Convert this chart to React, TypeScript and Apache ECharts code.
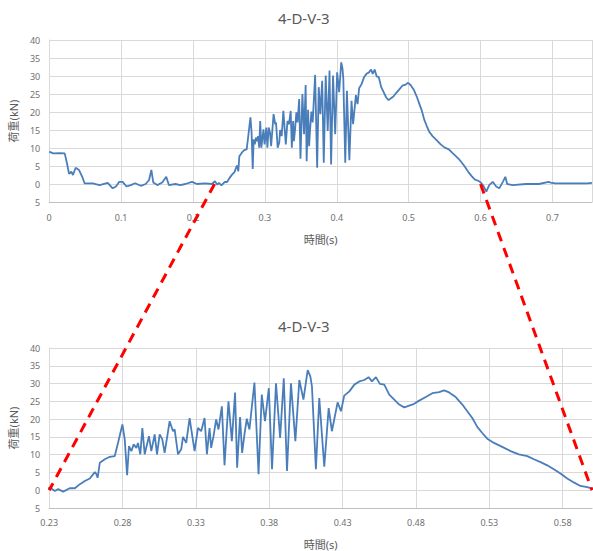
import React, { useEffect, useRef } from "react";
import * as echarts from "echarts";

const TITLE = "4-D-V-3";
const X_NAME = "時間(s)";
const Y_NAME = "荷重(kN)";

const timeS = [
  0, 0.0055, 0.0147, 0.0216, 0.0248, 0.0276, 0.0308, 0.0331, 0.0368, 0.0414, 0.046, 0.0492, 0.0607, 0.07,
  0.0814, 0.0883, 0.0929, 0.0975, 0.1021, 0.1076, 0.1135, 0.1195, 0.1274, 0.1342, 0.1389, 0.1421, 0.1448,
  0.1503, 0.1572, 0.1628, 0.1665, 0.1756, 0.1825, 0.1894, 0.1986, 0.2055, 0.217, 0.2262,
  0.2305, 0.2339, 0.2361, 0.2395, 0.244, 0.2475, 0.2509, 0.2543, 0.2577, 0.2611, 0.2622, 0.263, 0.2645,
  0.2679, 0.2713, 0.2747, 0.2769, 0.2799, 0.2815, 0.2831, 0.2844, 0.286, 0.2876, 0.2894, 0.2905, 0.2921,
  0.2935, 0.2951, 0.298, 0.2996, 0.3019, 0.3035, 0.3053, 0.3071, 0.3087, 0.3121, 0.3144, 0.3155, 0.3178,
  0.32, 0.3212, 0.3234, 0.3257, 0.3291, 0.3314, 0.3336, 0.3359, 0.3375, 0.3393, 0.3404, 0.342, 0.3438,
  0.3454, 0.3477, 0.3495, 0.3522, 0.3545, 0.3567, 0.3581, 0.3601, 0.3615, 0.3631, 0.3647, 0.3665, 0.3699,
  0.3727, 0.3749, 0.3771, 0.3797, 0.3819, 0.3846, 0.3874, 0.3899, 0.3921, 0.3948, 0.3978, 0.4005, 0.4033,
  0.4062, 0.408, 0.4091, 0.4118, 0.4141, 0.4175, 0.4205, 0.4227, 0.4266, 0.4289, 0.4311, 0.4346, 0.438,
  0.4414, 0.4448, 0.4477, 0.45, 0.4527, 0.4554, 0.4584, 0.4618, 0.4652, 0.4686, 0.472, 0.4754, 0.4788,
  0.4822, 0.4867, 0.4912, 0.4958, 0.4992, 0.5026, 0.5071, 0.5116, 0.515, 0.5184, 0.5218, 0.5252, 0.5286,
  0.5332, 0.5388, 0.5445, 0.5502, 0.5559, 0.5604, 0.5649, 0.5695, 0.574, 0.5785, 0.5831, 0.5876, 0.5921,
  0.5967, 0.6,
  0.604, 0.608, 0.612, 0.617, 0.6217, 0.626, 0.631, 0.6345, 0.637, 0.6446, 0.663, 0.681, 0.695, 0.697,
  0.704, 0.727, 0.748, 0.755,
];

const loadKN = [
  9.0, 8.5, 8.6, 8.5, 5.7, 2.8, 3.4, 2.5, 4.5, 3.9, 2.0, 0.2, 0.2, -0.3,
  0.3, -1.2, -0.7, 0.6, 0.6, -0.7, -0.3, 0.2, -0.5, 0, 1.1, 3.9, 0.4,
  -0.3, 0.4, 2.0, -0.3, 0, -0.3, 0, 0.6, 0, 0.2, 0,
  0.75, -0.2, 0.3, -0.4, 0.55, 0.55, 1.7, 2.6, 3.3, 5.1, 4.5, 3.5, 7.7,
  8.7, 9.4, 9.6, 13.3, 18.5, 14.3, 4.2, 12.4, 11, 12.9, 11.9, 13.3, 10.1,
  17.5, 10.1, 15.2, 11, 15.7, 10.1, 15.7, 14.3, 10.5, 19.4, 16.6, 17.1, 10.1,
  11.5, 15, 13.3, 20.3, 11, 17.5, 16.6, 20.3, 10.1, 17.5, 11.9, 15.2, 19.9,
  17.1, 23.6, 7, 25, 13.8, 27.5, 6.3, 20.6, 10.5, 15.7, 20.1, 17.1, 30.3,
  4.5, 26.9, 19.4, 28.7, 5.9, 30.1, 14.7, 31.5, 5.4, 30.1, 13.8, 31, 25.5,
  33.8, 32, 29.2, 5.9, 25.9, 6.6, 23.1, 16.6, 24.7, 22.2, 26.6, 27.8, 29.7,
  30.6, 31, 31.8, 30.6, 31.8, 29.9, 29.7, 26.9, 25.5, 24.1, 23.3, 23.8, 24.3,
  25.2, 26.2, 27.3, 27.6, 28.1, 27.5, 26.2, 24.1, 22.2, 20.3, 17.8, 16.1, 14.5,
  13.3, 12.2, 11, 10.1, 9.6, 8.7, 7.9, 7, 5.9, 4.7, 3.3, 2.2, 1.2,
  0.9, 0.5,
  -0.5, -2.1, -0.3, 0.6, -0.7, -1.2, 0.6, 2.0, 0, -0.3, 0, 0, 0.6, 0.4,
  0.2, 0.2, 0.2, 0.3,
];

const FULL_RANGE = [0, 0.755];
const ZOOM_RANGE = [0.23, 0.6];
const Y_RANGE = [-5, 40];
const BOTTOM_X_TICKS = [0.23, 0.28, 0.33, 0.38, 0.43, 0.48, 0.53, 0.58];

export default function App() {
  const ref = useRef<HTMLDivElement>(null);
  useEffect(() => {
    const chart = echarts.init(ref.current!, null, { renderer: "svg" });
    const data = timeS.map((t, i) => [t, loadKN[i]]);
    const font = "'Noto Sans', 'Noto Sans CJK JP', sans-serif";
    const labelStyle = { color: "#707070", fontSize: 9, fontFamily: font };
    const nameStyle = { color: "#595959", fontSize: 11, fontFamily: font };
    const gridColor = "#d9d9d9";

    const yAxis = (gridIndex: number) => ({
      type: "value",
      gridIndex,
      min: Y_RANGE[0],
      max: Y_RANGE[1],
      interval: 5,
      name: Y_NAME,
      nameLocation: "middle",
      nameGap: 30,
      nameTextStyle: nameStyle,
      axisLine: { show: true, lineStyle: { color: gridColor } },
      axisTick: { show: false },
      axisLabel: { ...labelStyle, margin: 9, formatter: (v: number) => String(Math.abs(v)) },
      splitLine: { show: true, lineStyle: { color: gridColor, width: 1 } },
    });

    const titleStyle = { fontSize: 15, fontWeight: "normal", color: "#595959", fontFamily: font };
    const lineStyle = { color: "#4a7ebb", width: 1.8 };

    chart.setOption({
      animation: false,
      title: [
        { text: TITLE, left: 273, top: 5, textStyle: titleStyle },
        { text: TITLE, left: 273, top: 313, textStyle: titleStyle },
      ],
      grid: [
        { left: 46, top: 40, width: 546, height: 162 },
        { left: 46, top: 348, width: 546, height: 162 },
      ],
      xAxis: [
        {
          type: "value",
          gridIndex: 0,
          min: FULL_RANGE[0],
          max: FULL_RANGE[1],
          interval: 0.1,
          name: X_NAME,
          nameLocation: "middle",
          nameGap: 32,
          nameTextStyle: nameStyle,
          axisLine: { onZero: false, lineStyle: { color: "#bfbfbf" } },
          axisTick: { show: false },
          axisLabel: { ...labelStyle, margin: 11, showMaxLabel: false },
          splitLine: { show: true, lineStyle: { color: gridColor } },
        },
        {
          type: "value",
          gridIndex: 1,
          min: ZOOM_RANGE[0],
          max: ZOOM_RANGE[1],
          name: X_NAME,
          nameLocation: "middle",
          nameGap: 31,
          nameTextStyle: nameStyle,
          axisLine: { onZero: false, lineStyle: { color: "#bfbfbf" } },
          axisTick: { show: false, customValues: BOTTOM_X_TICKS },
          axisLabel: { ...labelStyle, margin: 10, customValues: BOTTOM_X_TICKS },
          splitLine: { show: true, lineStyle: { color: gridColor } },
        },
      ],
      yAxis: [yAxis(0), yAxis(1)],
      series: [
        {
          type: "line",
          xAxisIndex: 0,
          yAxisIndex: 0,
          data,
          showSymbol: false,
          symbol: "none",
          lineStyle,
          clip: true,
        },
        {
          type: "line",
          xAxisIndex: 1,
          yAxisIndex: 1,
          data,
          showSymbol: false,
          symbol: "none",
          lineStyle,
          clip: true,
        },
      ],
    });

    const px = (g: number, v: number[]) => chart.convertToPixel({ gridIndex: g }, v) as number[];
    const a1 = px(0, [ZOOM_RANGE[0], 0]);
    const b1 = px(1, [ZOOM_RANGE[0], 0]);
    const a2 = px(0, [ZOOM_RANGE[1], 0]);
    const b2 = px(1, [ZOOM_RANGE[1], 0]);
    const dash = { stroke: "#ff0000", lineWidth: 3, lineDash: [10, 7] };
    chart.setOption({
      graphic: [
        { type: "line", z: 100, shape: { x1: a1[0], y1: a1[1], x2: b1[0], y2: b1[1] }, style: dash },
        { type: "line", z: 100, shape: { x1: a2[0], y1: a2[1], x2: b2[0], y2: b2[1] }, style: dash },
      ],
    });

    return () => chart.dispose();
  }, []);

  return (
    <div
      ref={ref}
      style={{ position: "absolute", left: 0, top: 0, width: 593, height: 551, background: "#ffffff" }}
    />
  );
}
